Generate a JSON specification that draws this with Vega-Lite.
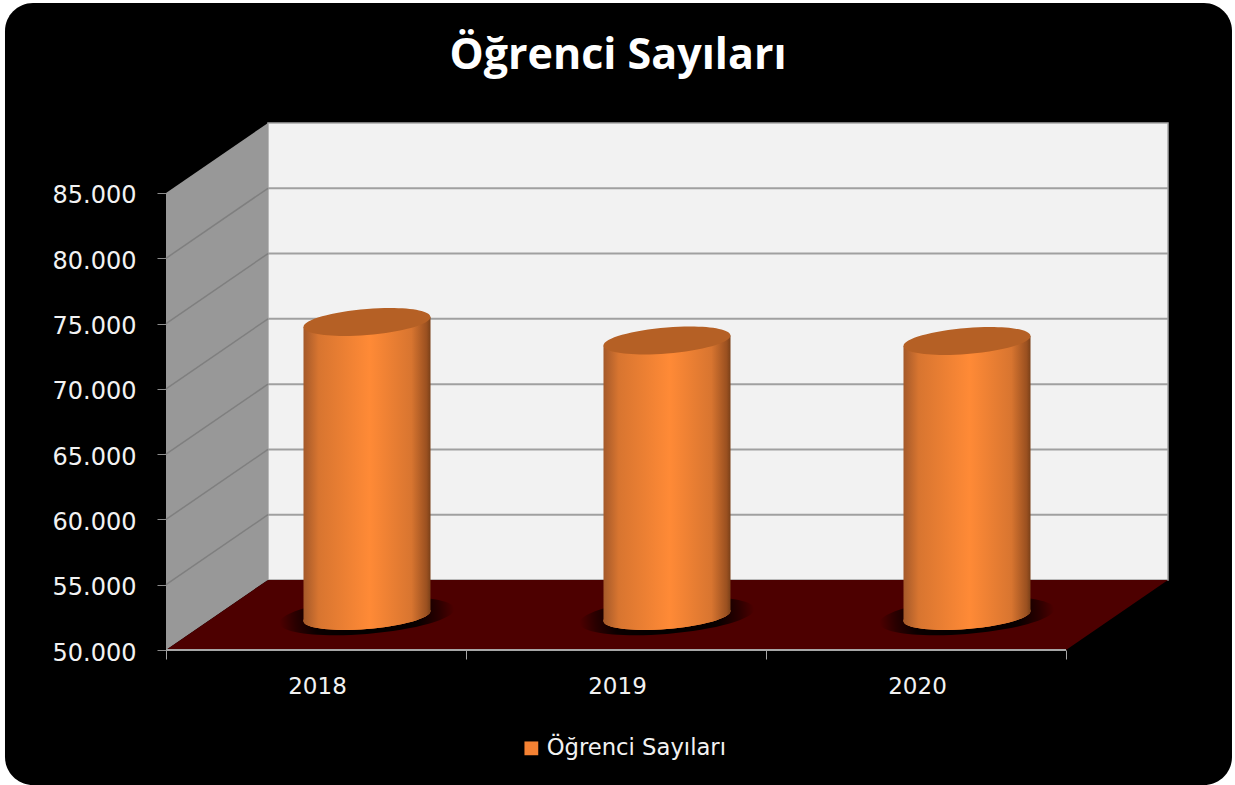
{
"$schema":"https://vega.github.io/schema/vega-lite/v6.json",
"width":1002,"height":527,
"autosize":{"type":"none"},
"padding":{"left":166,"top":123,"right":67,"bottom":135},
"background":"#ffffff",
"title":{"text":"Öğrenci Sayıları","font":"Open Sans","fontSize":43,"fontWeight":"bold","color":"#ffffff","anchor":"middle","dx":-49,"offset":-75},
"config":{"view":{"stroke":null}},
"datasets":{
"panel":[{"x":-0.5367,"x2":3.5533,"y":99552,"y2":39661}],
"backWall":[{"x":0.34,"x2":3.34,"y":90361,"y2":55361}],
"sideWall":[{"x":0,"y":85000,"y2":50000},{"x":0.34,"y":90361,"y2":55361}],
"floor":[{"x":0,"y":50000,"y2":50000},{"x":0.34,"y":55361,"y2":50000},{"x":3,"y":55361,"y2":50000},{"x":3.34,"y":55361,"y2":55361}],
"gridBack":[{"x":0.34,"x2":3.34,"y":60361,"y2":60361},{"x":0.34,"x2":3.34,"y":65361,"y2":65361},{"x":0.34,"x2":3.34,"y":70361,"y2":70361},{"x":0.34,"x2":3.34,"y":75361,"y2":75361},{"x":0.34,"x2":3.34,"y":80361,"y2":80361},{"x":0.34,"x2":3.34,"y":85361,"y2":85361}],
"gridSide":[{"x":0,"x2":0.34,"y":55000,"y2":60361},{"x":0,"x2":0.34,"y":60000,"y2":65361},{"x":0,"x2":0.34,"y":65000,"y2":70361},{"x":0,"x2":0.34,"y":70000,"y2":75361},{"x":0,"x2":0.34,"y":75000,"y2":80361},{"x":0,"x2":0.34,"y":80000,"y2":85361}],
"frontEdge":[{"x":0,"x2":3,"y":50000,"y2":50000}],
"cylinderBase":[{"year":"2018","series":"Öğrenci Sayıları","x":0.67,"y":52604},{"year":"2019","series":"Öğrenci Sayıları","x":1.67,"y":52604},{"year":"2020","series":"Öğrenci Sayıları","x":2.67,"y":52604}],
"cylinderBody":[
{"year":"2018","x":0.4583,"y":74738,"y2":52221},{"year":"2018","x":0.8817,"y":75504,"y2":52987},
{"year":"2019","x":1.4583,"y":73321,"y2":52221},{"year":"2019","x":1.8817,"y":74087,"y2":52987},
{"year":"2020","x":2.4583,"y":73283,"y2":52221},{"year":"2020","x":2.8817,"y":74049,"y2":52987}],
"cylinderTop":[{"year":"2018","x":0.67,"y":75121},{"year":"2019","x":1.67,"y":73704},{"year":"2020","x":2.67,"y":73666}]
},
"encoding":{
"x":{"field":"x","type":"quantitative","title":null,"scale":{"domain":[0,3.34],"nice":false,"zero":false},
"axis":{"values":[0,1,2,3],"zindex":1,"grid":false,"domain":false,"tickColor":"#a6a6a6","tickSize":9,"tickWidth":1,"labelOffset":151,"labelPadding":16,"labelColor":"#f2f2f2","labelFont":"DejaVu Sans","labelFontSize":23,"labelOverlap":false,"labelBound":false,"labelFlush":false,"labelExpr":"datum.value==3?'':toString(2018+datum.value)"}},
"y":{"field":"y","type":"quantitative","title":null,"scale":{"domain":[50000,90361],"nice":false,"zero":false},
"axis":{"values":[50000,55000,60000,65000,70000,75000,80000,85000],"zindex":1,"grid":false,"domain":false,"tickColor":"#8c8c8c","tickSize":9,"tickWidth":1,"labelPadding":21,"labelOffset":3,"labelColor":"#f2f2f2","labelFont":"DejaVu Sans","labelFontSize":24,"labelOverlap":false,"labelBound":false,"labelExpr":"replace(format(datum.value,','),',','.')"}}
},
"layer":[
{"data":{"name":"panel"},"mark":{"type":"rect","fill":"#000000","cornerRadius":28,"clip":false},"encoding":{"x2":{"field":"x2"},"y2":{"field":"y2"}}},
{"data":{"name":"backWall"},"mark":{"type":"rect","fill":"#f2f2f2","stroke":"#a6a6a6","strokeWidth":1.5},"encoding":{"x2":{"field":"x2"},"y2":{"field":"y2"}}},
{"data":{"name":"sideWall"},"mark":{"type":"area","fill":"#989898","opacity":1,"orient":"vertical"},"encoding":{"y2":{"field":"y2"}}},
{"data":{"name":"gridBack"},"mark":{"type":"rule","color":"#a0a0a0","strokeWidth":2},"encoding":{"x2":{"field":"x2"},"y2":{"field":"y2"}}},
{"data":{"name":"gridSide"},"mark":{"type":"rule","color":"#7f7f7f","strokeWidth":1.5},"encoding":{"x2":{"field":"x2"},"y2":{"field":"y2"}}},
{"data":{"name":"floor"},"mark":{"type":"area","fill":"#4d0000","opacity":1,"orient":"vertical"},"encoding":{"y2":{"field":"y2"}}},
{"data":{"name":"frontEdge"},"mark":{"type":"rule","color":"#a6a6a6","strokeWidth":2},"encoding":{"x2":{"field":"x2"}}},
{"data":{"name":"cylinderBase"},"mark":{"type":"point","filled":true,"opacity":1,"strokeWidth":0,"size":30625,"shape":"M 1 -0.0787 C 1 0.0344 0.5523 0.1612 0 0.2047 C -0.5523 0.2482 -1 0.1918 -1 0.0787 C -1 -0.0344 -0.5523 -0.1612 0 -0.2047 C 0.5523 -0.2482 1 -0.1918 1 -0.0787 Z","fill":{"gradient":"radial","stops":[{"offset":0,"color":"#000000"},{"offset":0.6,"color":"#0a0000"},{"offset":0.82,"color":"#2a0000"},{"offset":1,"color":"#4d0000"}]}}},
{"data":{"name":"cylinderBase"},"mark":{"type":"point","filled":true,"opacity":1,"strokeWidth":0,"size":16129,"shape":"M 1 -0.0787 C 1 0.0344 0.5523 0.1612 0 0.2047 C -0.5523 0.2482 -1 0.1918 -1 0.0787 C -1 -0.0344 -0.5523 -0.1612 0 -0.2047 C 0.5523 -0.2482 1 -0.1918 1 -0.0787 Z"},"encoding":{"color":{"field":"series","type":"nominal","scale":{"range":["#f58233"]},"legend":{"title":null,"orient":"none","legendX":354,"legendY":614,"symbolType":"square","symbolSize":190,"symbolStrokeWidth":0,"labelColor":"#f2f2f2","labelFont":"DejaVu Sans","labelFontSize":22.7,"labelLimit":400}}}},
{"data":{"name":"cylinderBody"},"mark":{"type":"area","orient":"vertical","opacity":1,"fill":{"gradient":"linear","x1":0,"x2":1,"y1":0,"y2":0,"stops":[{"offset":0,"color":"#a4592a"},{"offset":0.12,"color":"#d87530"},{"offset":0.52,"color":"#ff8a36"},{"offset":0.85,"color":"#d87530"},{"offset":0.97,"color":"#9a5020"},{"offset":1,"color":"#7a4018"}]}},"encoding":{"y2":{"field":"y2"},"detail":{"field":"year"}}},
{"data":{"name":"cylinderBase"},"mark":{"type":"point","filled":true,"opacity":1,"strokeWidth":0,"size":16129,"shape":"M 1 -0.0787 C 1 0.0344 0.5523 0.1612 0 0.2047 C -0.5523 0.2482 -1 0.1918 -1 0.0787 C -1 -0.0344 -0.5523 -0.1612 0 -0.2047 C 0.5523 -0.2482 1 -0.1918 1 -0.0787 Z","fill":{"gradient":"linear","x1":0,"x2":1,"y1":0,"y2":0,"stops":[{"offset":0,"color":"#a4592a"},{"offset":0.12,"color":"#d87530"},{"offset":0.52,"color":"#ff8a36"},{"offset":0.85,"color":"#d87530"},{"offset":0.97,"color":"#9a5020"},{"offset":1,"color":"#7a4018"}]}}},
{"data":{"name":"cylinderTop"},"mark":{"type":"point","filled":true,"opacity":1,"strokeWidth":0,"size":16129,"fill":"#b56025","shape":"M 1 -0.0787 C 1 0.0344 0.5523 0.1612 0 0.2047 C -0.5523 0.2482 -1 0.1918 -1 0.0787 C -1 -0.0344 -0.5523 -0.1612 0 -0.2047 C 0.5523 -0.2482 1 -0.1918 1 -0.0787 Z"}}
]
}
